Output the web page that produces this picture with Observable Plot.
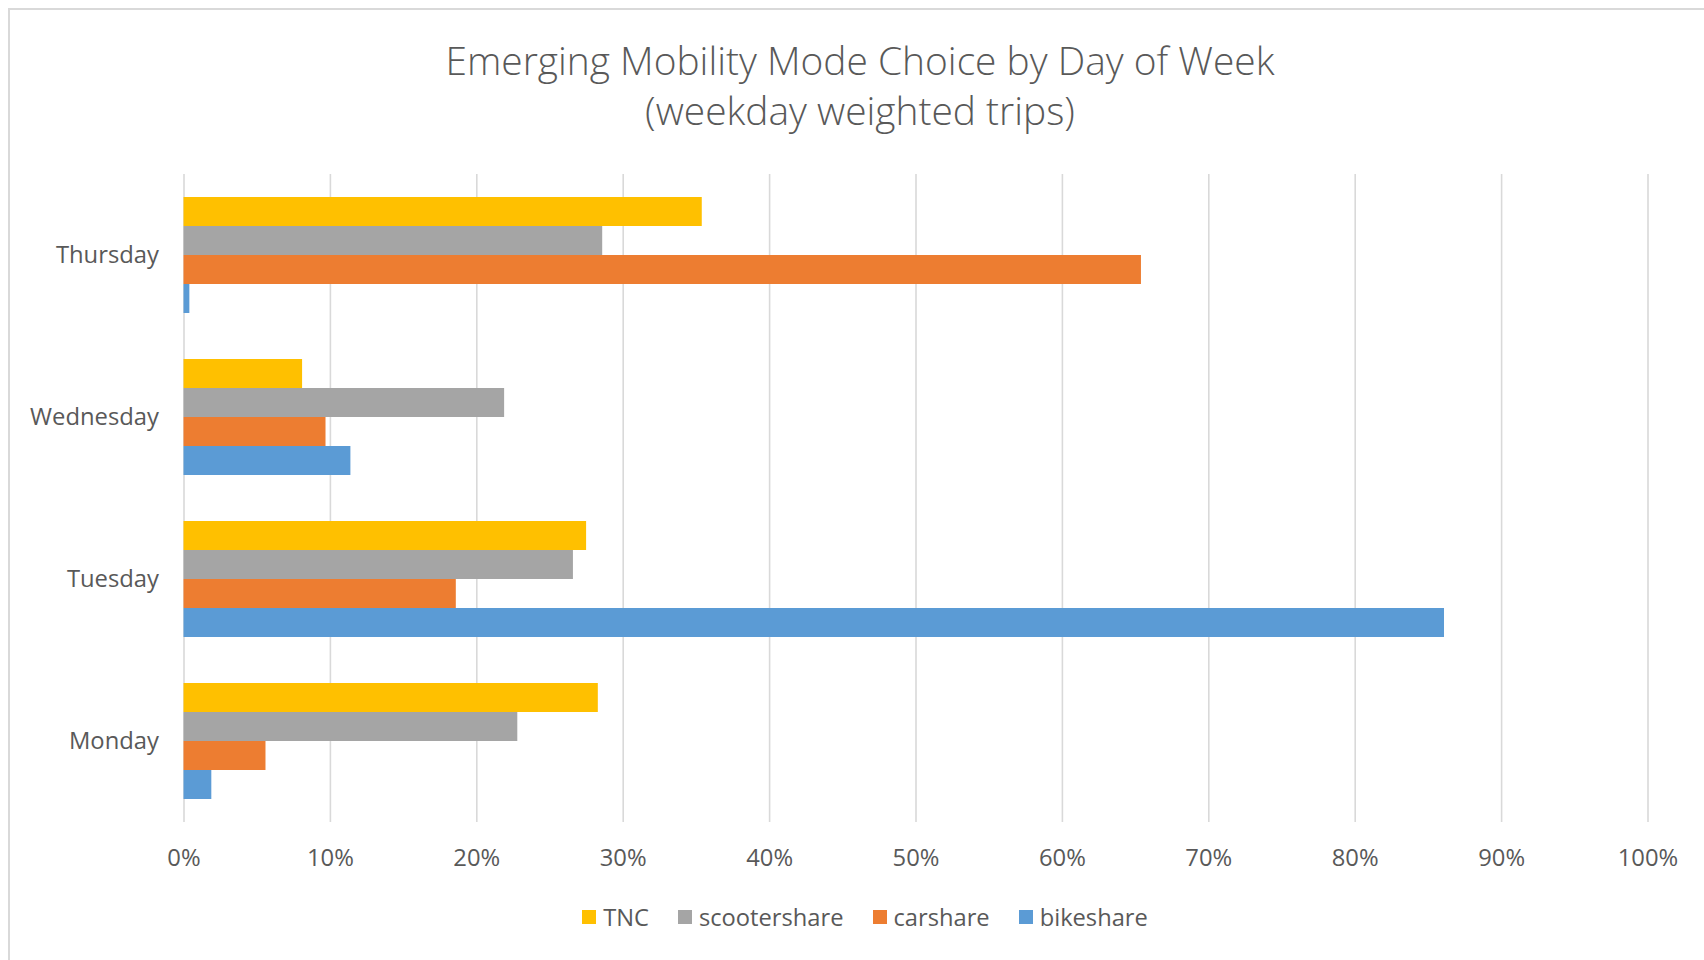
<!DOCTYPE html>
<html>
<head>
<meta charset="utf-8">
<script src="https://cdn.jsdelivr.net/npm/d3@7"></script>
<script src="https://cdn.jsdelivr.net/npm/@observablehq/plot@0.6"></script>
<style>
  html, body { margin: 0; padding: 0; background: #fff; overflow: hidden; }
  body { width: 1704px; height: 960px; position: relative; font-family: "Open Sans", sans-serif; color: #595959; }
  #frame { position: absolute; left: 8px; top: 8px; width: 1710px; height: 970px; border: 2px solid #d9d9d9; box-sizing: border-box; }
  .title { position: absolute; left: 9px; width: 1702px; text-align: center; white-space: nowrap; font-weight: 300; }
  #t1 { top: 37px; font-size: 38.9px; line-height: 46px; }
  #t2 { top: 87px; font-size: 38.9px; line-height: 46px; }
  #chart { position: absolute; left: 0; top: 140px; }
  #legend { position: absolute; left: 14px; width: 1702px; top: 902px; display: flex; justify-content: center; font-size: 23.7px; line-height: 30px; }
  .item { display: flex; align-items: center; margin: 0 14.5px; }
  .sw { width: 14px; height: 14px; margin-right: 7px; }
</style>
</head>
<body>
<div id="frame"></div>
<div class="title" id="t1">Emerging Mobility Mode Choice by Day of Week</div>
<div class="title" id="t2">(weekday weighted trips)</div>
<div id="chart"></div>
<div id="legend"></div>
<script>
const days = ["Thursday", "Wednesday", "Tuesday", "Monday"];
const modes = ["TNC", "scootershare", "carshare", "bikeshare"];
const colors = ["#FFC000", "#A5A5A5", "#ED7D31", "#5B9BD5"];
const tnc = [0.354, 0.081, 0.275, 0.283];
const scootershare = [0.286, 0.219, 0.266, 0.228];
const carshare = [0.654, 0.097, 0.186, 0.056];
const bikeshare = [0.004, 0.114, 0.861, 0.019];
const xTicks = [0, 0.1, 0.2, 0.3, 0.4, 0.5, 0.6, 0.7, 0.8, 0.9, 1.0];

const series = [tnc, scootershare, carshare, bikeshare];
const table = [];
days.forEach((d, i) => modes.forEach((m, j) => table.push({day: d, mode: m, value: series[j][i]})));

const chart = Plot.plot({
  width: 1704,
  height: 740,
  marginLeft: 183.5,
  marginRight: 56.5,
  marginTop: 34,
  marginBottom: 58,
  style: {fontFamily: "Open Sans, sans-serif", fontSize: "23.8px", color: "#595959", background: "transparent", overflow: "visible"},
  x: {domain: [0, 1], ticks: xTicks, tickFormat: d3.format(".0%"), tickSize: 0, tickPadding: 27, label: null},
  y: {domain: modes, paddingInner: 0, paddingOuter: 0.764, axis: null},
  fy: {domain: days, padding: 0, label: null, tickSize: 0, tickPadding: 25},
  color: {domain: modes, range: colors},
  marks: [
    Plot.ruleX(xTicks, {stroke: "#d9d9d9", strokeWidth: 1.6}),
    Plot.barX(table, {x: "value", y: "mode", fy: "day", fill: "mode"})
  ]
});
document.getElementById("chart").appendChild(chart);

const legend = document.getElementById("legend");
modes.forEach((m, j) => {
  const it = document.createElement("div");
  it.className = "item";
  const sw = document.createElement("div");
  sw.className = "sw";
  sw.style.background = colors[j];
  const tx = document.createElement("span");
  tx.textContent = m;
  it.appendChild(sw);
  it.appendChild(tx);
  legend.appendChild(it);
});
</script>
</body>
</html>
